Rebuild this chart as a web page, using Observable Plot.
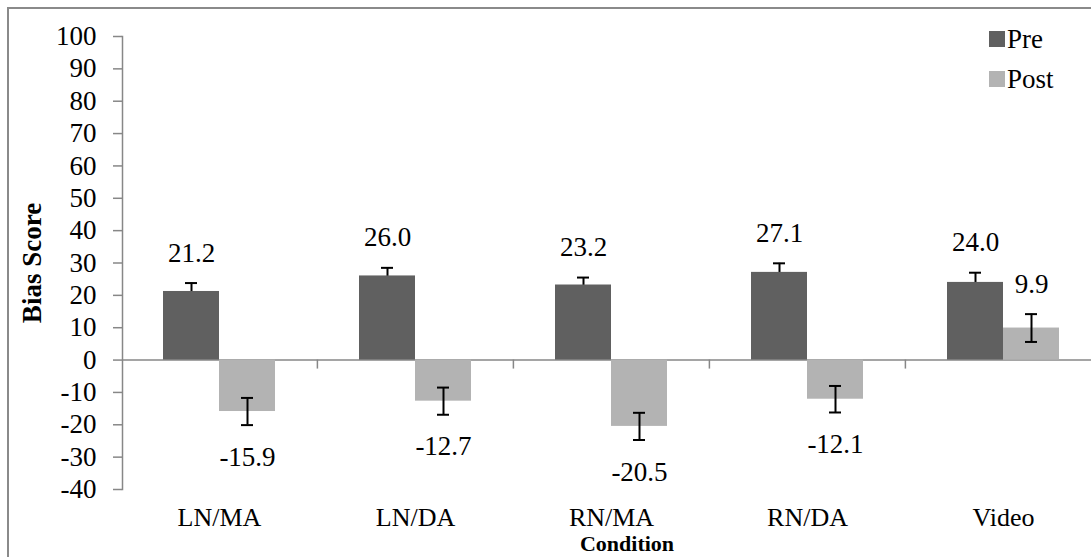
<!DOCTYPE html>
<html>
<head>
<meta charset="utf-8">
<script src="https://cdn.jsdelivr.net/npm/d3@7"></script>
<script src="https://cdn.jsdelivr.net/npm/@observablehq/plot@0.6"></script>
<style>
  html, body { margin: 0; padding: 0; background: #fff; overflow: hidden; }
  #wrap { position: relative; width: 1091px; height: 557px; }
  #border { position: absolute; left: 7px; top: 7px; width: 1200px; height: 700px;
            border: 2px solid #8a8a8a; box-sizing: border-box; pointer-events: none; }
  #chart { position: absolute; left: 0; top: 0; }
  #legend { position: absolute; left: 989px; top: 19px;
            font-family: "Liberation Serif", serif; font-size: 27px; color: #000; }
  .item { display: flex; align-items: center; height: 40px; }
  .swatch { width: 16px; height: 16px; margin-right: 2px; }
</style>
</head>
<body>
<div id="wrap">
  <div id="chart"></div>
  <div id="legend"></div>
  <div id="border"></div>
</div>
<script>
// Mean bias scores by condition, before and after, with error bar half-widths
const conditions = ["LN/MA", "LN/DA", "RN/MA", "RN/DA", "Video"];
const seriesNames = ["Pre", "Post"];
const preScores = [21.2, 26.0, 23.2, 27.1, 24.0];
const postScores = [-15.9, -12.7, -20.5, -12.1, 9.9];
const preErrors = [2.6, 2.5, 2.3, 2.8, 3.0];
const postErrors = [4.2, 4.2, 4.2, 4.1, 4.3];
const yTicks = [-40, -30, -20, -10, 0, 10, 20, 30, 40, 50, 60, 70, 80, 90, 100];
const seriesColors = ["#606060", "#b3b3b3"];

const font = '"Liberation Serif", serif';
const W = 1091, H = 557;
const mTop = 36, mBottom = 68, mLeft = 122, mRight = 0;
const xRange = [120, 1101];
const step = (xRange[1] - xRange[0]) / conditions.length;
const barW = 56, half = barW / 2, capW = 12;
const pad = 1 - barW / step;
const axisGray = "#878787";
const fs = 27;
// length of the category tick marks, in y units (9px below the zero line)
const tickLen = 9 * (yTicks[yTicks.length - 1] - yTicks[0]) / (H - mTop - mBottom);

const preRows = conditions.map((c, i) => ({condition: c, series: "Pre", value: preScores[i], error: preErrors[i]}));
const postRows = conditions.map((c, i) => ({condition: c, series: "Post", value: postScores[i], error: postErrors[i]}));
const label = d => d.value.toFixed(1);

function errorMarks(rows, dx) {
  const inset = (barW - capW) / 2;
  return [
    Plot.ruleX(rows, {x: "condition", y1: d => d.value - d.error, y2: d => d.value + d.error,
                      dx, stroke: "#000", strokeWidth: 2}),
    Plot.tickY(rows, {x: "condition", y: d => d.value + d.error, dx, stroke: "#000", strokeWidth: 2,
                      insetLeft: inset, insetRight: inset}),
    Plot.tickY(rows, {x: "condition", y: d => d.value - d.error, dx, stroke: "#000", strokeWidth: 2,
                      insetLeft: inset, insetRight: inset})
  ];
}

function valueLabels(rows, dx) {
  return [
    Plot.text(rows.filter(d => d.value >= 0), {x: "condition", y: d => d.value + d.error, text: label,
                                               dx, dy: -30, fontSize: fs}),
    Plot.text(rows.filter(d => d.value < 0), {x: "condition", y: d => d.value - d.error, text: label,
                                              dx, dy: 32, fontSize: fs})
  ];
}

const chart = Plot.plot({
  width: W,
  height: H,
  marginTop: mTop,
  marginBottom: mBottom,
  marginLeft: mLeft,
  marginRight: mRight,
  style: {fontFamily: font, fontSize: fs + "px", color: "#000", background: "transparent", overflow: "hidden"},
  x: {type: "band", domain: conditions, range: xRange, paddingInner: pad, paddingOuter: pad / 2},
  y: {domain: [yTicks[0], yTicks[yTicks.length - 1]]},
  marks: [
    // value axis on the left
    Plot.frame({anchor: "left", stroke: axisGray, strokeWidth: 1.5}),
    Plot.axisY({ticks: yTicks, tickFormat: d => String(d), tickSize: 9, tickPadding: 17,
                stroke: axisGray, strokeWidth: 1.5, label: null, fontSize: fs}),
    Plot.text(["Bias Score"], {frameAnchor: "left", textAnchor: "middle", lineAnchor: "middle",
                               rotate: -90, dx: -90, fontWeight: "bold", fontSize: fs}),
    // category labels along the bottom, title below
    Plot.axisX({tickSize: 0, tickPadding: 18, label: null, fontSize: 26}),
    Plot.text(["Condition"], {frameAnchor: "bottom", textAnchor: "middle", lineAnchor: "middle",
                              dx: 20, dy: 54, fontWeight: "bold", fontSize: 22}),
    // zero line with tick marks between categories
    Plot.ruleY([0], {stroke: axisGray, strokeWidth: 1.5}),
    Plot.ruleX(conditions.slice(1), {x: d => d, dx: -step / 2, y1: 0, y2: -tickLen, stroke: axisGray, strokeWidth: 1.5}),
    // Pre: error bars sit behind the bars
    ...errorMarks(preRows, -half),
    Plot.barY(preRows, {x: "condition", y: "value", fill: seriesColors[0], dx: -half}),
    // Post: error bars drawn over the bars
    Plot.barY(postRows, {x: "condition", y: "value", fill: seriesColors[1], dx: half}),
    ...errorMarks(postRows, half),
    ...valueLabels(preRows, -half),
    ...valueLabels(postRows, half)
  ]
});
document.getElementById("chart").append(chart);

// legend in the upper right corner
const legend = document.getElementById("legend");
seriesNames.forEach((name, i) => {
  const item = document.createElement("div");
  item.className = "item";
  const sw = document.createElement("span");
  sw.className = "swatch";
  sw.style.background = seriesColors[i];
  const tx = document.createElement("span");
  tx.textContent = name;
  item.append(sw, tx);
  legend.append(item);
});
</script>
</body>
</html>
